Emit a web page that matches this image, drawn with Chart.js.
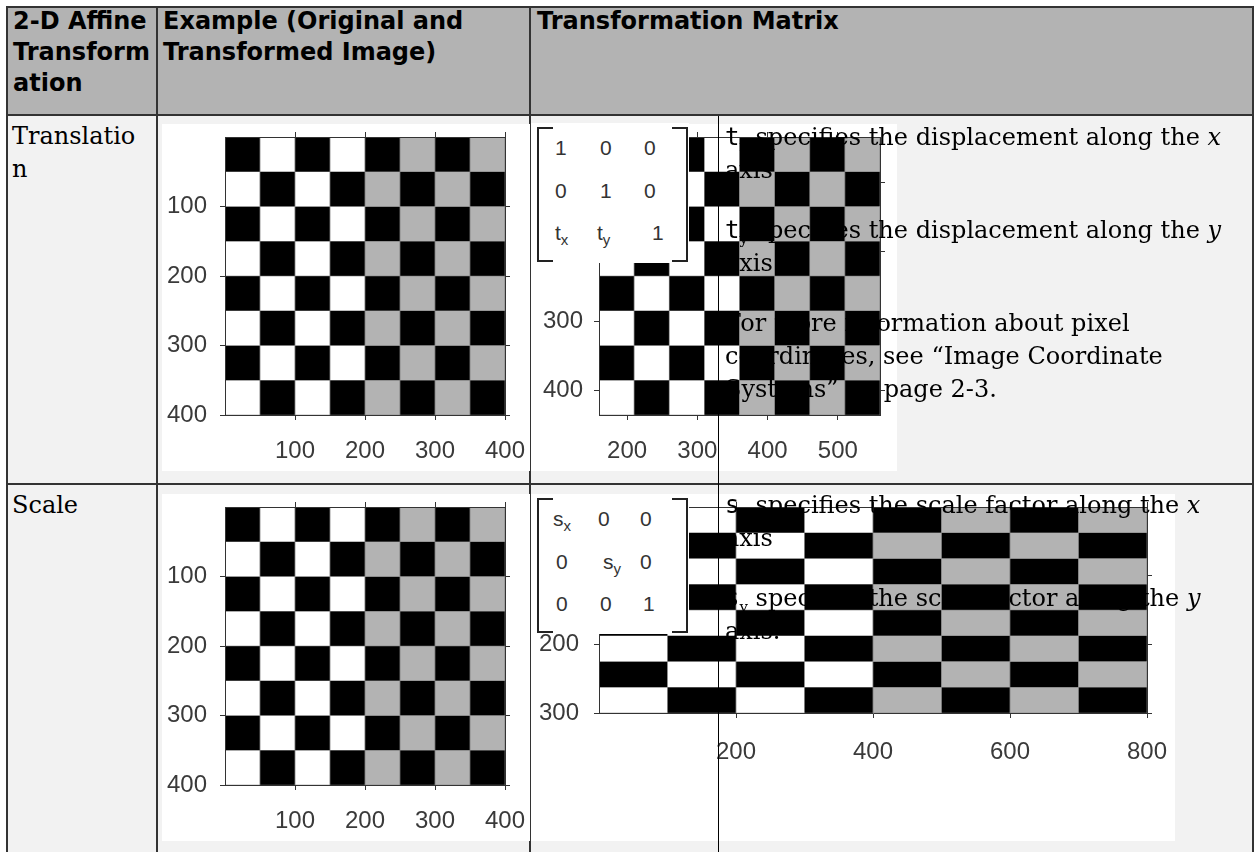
<!DOCTYPE html>
<html lang="en">

<head>
    <meta charset="UTF-8">
    <title>2-D Affine Transformation</title>
    <script src="https://cdn.jsdelivr.net/npm/chart.js"></script>
    <style>
        body {
            margin: 0;
            width: 1256px;
            height: 852px;
            overflow: hidden;
            position: relative;
            background: #fff;
            font-family: 'DejaVu Serif', serif;
        }

        .box { position: absolute; }
        .hdr { background: #b3b3b3; }
        .cell { background: #f2f2f2; }
        .line { position: absolute; background: #333; }

        .head-text {
            position: absolute;
            font-family: 'DejaVu Sans', sans-serif;
            font-weight: bold;
            font-size: 24px;
            line-height: 31px;
            white-space: nowrap;
            color: #000;
        }

        .body-text {
            position: absolute;
            font-size: 24px;
            line-height: 33px;
            white-space: nowrap;
            color: #000;
            z-index: 3;
        }

        .body-text p { margin: 0 0 27px 0; }
        .body-text code { font-family: 'DejaVu Sans Mono', monospace; font-size: 24px; }
        .body-text sub { font-size: 15px; line-height: 0; }

        canvas { position: absolute; background: #fff; z-index: 1; }

        .matrix {
            position: absolute;
            width: 158px;
            height: 140px;
            background: #fff;
            z-index: 2;
            font-family: 'Liberation Sans', Arial, sans-serif;
            font-size: 21px;
            color: #333;
        }

        .matrix .br {
            position: absolute;
            top: 4px;
            width: 14px;
            height: 131px;
            border: 2px solid #222;
        }

        .matrix .br.l { left: 6px; border-right: none; }
        .matrix .br.r { left: 141px; border-left: none; }

        .matrix span { position: absolute; line-height: 24px; }
        .matrix sub { font-size: 15px; line-height: 0; }

        #sub_line {
            position: absolute;
            left: 718px;
            top: 116px;
            width: 1px;
            height: 736px;
            background: #000;
            z-index: 4;
        }
    </style>
</head>

<body>
    <!-- fondos -->
    <div class="box hdr" style="left:8px;top:8px;width:1244px;height:107px"></div>
    <div class="box cell" style="left:8px;top:116px;width:1244px;height:736px"></div>

    <!-- bordes de la tabla -->
    <div class="line" style="left:6px;top:6px;width:1248px;height:2px"></div>
    <div class="line" style="left:6px;top:6px;width:2px;height:846px"></div>
    <div class="line" style="left:1252px;top:6px;width:2px;height:846px"></div>
    <div class="line" style="left:8px;top:114px;width:1244px;height:2px"></div>
    <div class="line" style="left:8px;top:483px;width:1244px;height:2px"></div>
    <div class="line" style="left:156px;top:8px;width:2px;height:844px"></div>
    <div class="line" style="left:529px;top:8px;width:2px;height:844px"></div>
    <div id="sub_line"></div>

    <!-- cabecera -->
    <div class="head-text" style="left:13px;top:6px">2-D Affine<br>Transform<br>ation</div>
    <div class="head-text" style="left:163px;top:6px">Example (Original and<br>Transformed Image)</div>
    <div class="head-text" style="left:537px;top:6px">Transformation Matrix</div>

    <!-- fila traslacion -->
    <div class="body-text" style="left:12px;top:120px">Translatio<br>n</div>
    <canvas id="chartOrig1" width="368" height="347" style="left:162px;top:124px"></canvas>
    <canvas id="chartTrans" width="366" height="347" style="left:531px;top:124px"></canvas>
    <div class="matrix" style="left:531px;top:123px">
        <div class="br l"></div>
        <div class="br r"></div>
        <span style="left:24px;top:13px">1</span>
        <span style="left:69px;top:13px">0</span>
        <span style="left:113px;top:13px">0</span>
        <span style="left:24px;top:56px">0</span>
        <span style="left:69px;top:56px">1</span>
        <span style="left:113px;top:56px">0</span>
        <span style="left:24px;top:98px">t<sub>x</sub></span>
        <span style="left:66px;top:98px">t<sub>y</sub></span>
        <span style="left:121px;top:98px">1</span>
    </div>
    <div class="body-text" style="left:725px;top:121px">
        <p><code>t</code><sub>x</sub> specifies the displacement along the <i>x</i><br>axis</p>
        <p><code>t</code><sub>y</sub> specifies the displacement along the <i>y</i><br>axis.</p>
        <p>For more information about pixel<br>coordinates, see “Image Coordinate<br>Systems” on page 2-3.</p>
    </div>

    <!-- fila escala -->
    <div class="body-text" style="left:12px;top:489px">Scale</div>
    <canvas id="chartOrig2" width="368" height="347" style="left:162px;top:494px"></canvas>
    <canvas id="chartScale" width="644" height="347" style="left:531px;top:494px"></canvas>
    <div class="matrix" style="left:531px;top:494px">
        <div class="br l"></div>
        <div class="br r"></div>
        <span style="left:22px;top:13px">s<sub>x</sub></span>
        <span style="left:67px;top:13px">0</span>
        <span style="left:109px;top:13px">0</span>
        <span style="left:25px;top:56px">0</span>
        <span style="left:72px;top:56px">s<sub>y</sub></span>
        <span style="left:109px;top:56px">0</span>
        <span style="left:25px;top:98px">0</span>
        <span style="left:69px;top:98px">0</span>
        <span style="left:112px;top:98px">1</span>
    </div>
    <div class="body-text" style="left:725px;top:489px">
        <p><code>s</code><sub>x</sub> specifies the scale factor along the <i>x</i><br>axis</p>
        <p><code>s</code><sub>y</sub> specifies the scale factor along the <i>y</i><br>axis.</p>
    </div>
</body>

<script>
    // intensidad de cada casilla del tablero (0 negro, 1 blanco, 0.7 gris)
    var tiles = [
        [0, 1, 0, 1, 0, 0.7, 0, 0.7],
        [1, 0, 1, 0, 0.7, 0, 0.7, 0],
        [0, 1, 0, 1, 0, 0.7, 0, 0.7],
        [1, 0, 1, 0, 0.7, 0, 0.7, 0],
        [0, 1, 0, 1, 0, 0.7, 0, 0.7],
        [1, 0, 1, 0, 0.7, 0, 0.7, 0],
        [0, 1, 0, 1, 0, 0.7, 0, 0.7],
        [1, 0, 1, 0, 0.7, 0, 0.7, 0]
    ]

    // bordes de las casillas en coordenadas de pixel
    var origEdgesX = [0, 50, 100, 150, 200, 250, 300, 350, 400]
    var origEdgesY = [0, 50, 100, 150, 200, 250, 300, 350, 400]
    var origTicksX = [100, 200, 300, 400]
    var origTicksY = [100, 200, 300, 400]

    var transEdgesX = [160, 210, 260, 310, 360, 410, 460, 510, 560]
    var transEdgesY = [35, 85, 135, 185, 235, 285, 335, 385, 435]
    var transTicksX = [200, 300, 400, 500]
    var transTicksY = [100, 200, 300, 400]

    var scaleEdgesX = [0, 100, 200, 300, 400, 500, 600, 700, 800]
    var scaleEdgesY = [0, 37.5, 75, 112.5, 150, 187.5, 225, 262.5, 300]
    var scaleTicksX = [200, 400, 600, 800]
    var scaleTicksY = [100, 200, 300]

    var tickFont = { family: "'Liberation Sans', Arial, sans-serif", size: 24 }
    var axisColor = '#333'

    function shade(v) {
        var c = Math.round(v * 255)
        return 'rgb(' + c + ',' + c + ',' + c + ')'
    }

    function makeAxis(position, lo, hi, ticks, size, showLabels, labelPad, reverse) {
        var horizontal = position == 'top' || position == 'bottom'
        return {
            type: 'linear',
            position: position,
            min: lo,
            max: hi,
            reverse: reverse,
            offset: false,
            afterBuildTicks: function (s) {
                s.ticks = ticks.map(function (v) { return { value: v } })
            },
            afterFit: function (s) {
                if (horizontal) s.height = size
                else s.width = size
                s.paddingLeft = 0
                s.paddingRight = 0
                s.paddingTop = 0
                s.paddingBottom = 0
            },
            grid: {
                offset: false,
                drawOnChartArea: false,
                drawTicks: true,
                tickLength: 5,
                color: axisColor
            },
            border: { display: true, color: axisColor, width: 1, z: 1 },
            ticks: {
                display: showLabels,
                font: tickFont,
                color: '#3a3a3a',
                padding: labelPad,
                autoSkip: false,
                maxRotation: 0
            }
        }
    }

    function makeBoard(id, edgesX, edgesY, ticksX, ticksY, sizes) {
        var datasets = tiles.map(function (row, r) {
            return {
                data: row.map(function (v, c) {
                    return { x: (edgesX[c] + edgesX[c + 1]) / 2, y: [edgesY[r], edgesY[r + 1]] }
                }),
                backgroundColor: row.map(shade),
                borderColor: '#7a7a7a',
                borderWidth: 0.7,
                borderSkipped: false,
                categoryPercentage: 1,
                barPercentage: 1,
                grouped: false
            }
        })
        var lastX = edgesX[edgesX.length - 1]
        var lastY = edgesY[edgesY.length - 1]
        return new Chart(document.getElementById(id).getContext('2d'), {
            type: 'bar',
            data: { datasets: datasets },
            options: {
                responsive: false,
                animation: false,
                events: [],
                layout: { padding: { left: 0, top: 8, right: sizes.right, bottom: sizes.bottom } },
                plugins: { legend: { display: false }, tooltip: { enabled: false } },
                scales: {
                    x: makeAxis('bottom', edgesX[0], lastX, ticksX, 56, true, sizes.xPad, false),
                    x2: makeAxis('top', edgesX[0], lastX, ticksX, 5, false, 0, false),
                    y: makeAxis('left', edgesY[0], lastY, ticksY, sizes.left, true, sizes.yPad, true),
                    y2: makeAxis('right', edgesY[0], lastY, ticksY, 5, false, 0, true)
                }
            }
        })
    }

    makeBoard('chartOrig1', origEdgesX, origEdgesY, origTicksX, origTicksY,
        { left: 63, right: 20, bottom: 0, xPad: 17, yPad: 13 })
    makeBoard('chartOrig2', origEdgesX, origEdgesY, origTicksX, origTicksY,
        { left: 63, right: 20, bottom: 0, xPad: 17, yPad: 13 })
    makeBoard('chartTrans', transEdgesX, transEdgesY, transTicksX, transTicksY,
        { left: 68, right: 12, bottom: 0, xPad: 17, yPad: 11 })
    makeBoard('chartScale', scaleEdgesX, scaleEdgesY, scaleTicksX, scaleTicksY,
        { left: 68, right: 23, bottom: 72, xPad: 20, yPad: 15 })
</script>

</html>
